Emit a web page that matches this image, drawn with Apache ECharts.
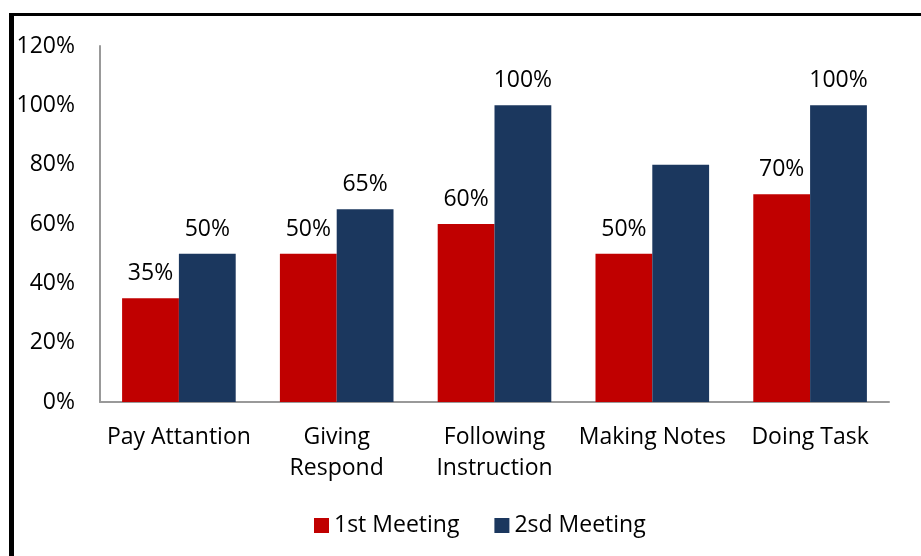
<!DOCTYPE html>
<html>
<head>
<meta charset="utf-8">
<script src="https://cdn.jsdelivr.net/npm/echarts@6/dist/echarts.min.js"></script>
<style>
  html, body { margin: 0; padding: 0; background: #fff; }
  #chart { width: 921px; height: 556px; }
</style>
</head>
<body>
<div id="chart"></div>
<script>
// Observation categories and meeting results (percent)
const categories = ['Pay Attantion', 'Giving\nRespond', 'Following\nInstruction', 'Making Notes', 'Doing Task'];
const firstMeeting = [35, 50, 60, 50, 70];
const secondMeeting = [50, 65, 100, 80, 100];
// Which bars carry a value label
const firstLabelShown = [true, true, true, true, true];
const secondLabelShown = [true, true, true, false, true];
const seriesNames = ['1st Meeting', '2sd Meeting'];

const FONT = '"Open Sans", "Liberation Sans", sans-serif';
const FONT_SIZE = 23;

function toItems(values, shown) {
  return values.map((v, i) => ({ value: v, label: { show: shown[i] } }));
}

const labelStyle = {
  position: 'top',
  distance: 13,
  color: '#000',
  fontFamily: FONT,
  fontSize: FONT_SIZE,
  formatter: p => p.value + '%'
};

const chart = echarts.init(document.getElementById('chart'));
chart.setOption({
  backgroundColor: '#fff',
  animation: false,
  graphic: [
    { type: 'line', shape: { x1: 9, y1: 14.5, x2: 921, y2: 14.5 }, style: { stroke: '#000', lineWidth: 3 } },
    { type: 'line', shape: { x1: 11.5, y1: 13, x2: 11.5, y2: 556 }, style: { stroke: '#000', lineWidth: 5 } }
  ],
  grid: { left: 100, right: 32, top: 46, bottom: 154 },
  legend: {
    top: 509,
    left: 309,
    itemWidth: 15,
    itemHeight: 15,
    itemGap: 35,
    icon: 'rect',
    textStyle: { fontFamily: FONT, fontSize: FONT_SIZE, color: '#000' },
    data: seriesNames
  },
  xAxis: {
    type: 'category',
    data: categories,
    axisLine: { lineStyle: { color: '#999', width: 2 } },
    axisTick: { show: false },
    axisLabel: {
      margin: 20,
      fontFamily: FONT,
      fontSize: FONT_SIZE,
      color: '#000',
      lineHeight: 31,
      interval: 0
    }
  },
  yAxis: {
    type: 'value',
    min: 0,
    max: 120,
    interval: 20,
    axisLine: { show: true, lineStyle: { color: '#999', width: 2 } },
    axisTick: { show: false },
    splitLine: { show: false },
    axisLabel: {
      margin: 25,
      fontFamily: FONT,
      fontSize: FONT_SIZE,
      color: '#000',
      formatter: v => v + '%'
    }
  },
  series: [
    {
      name: seriesNames[0],
      type: 'bar',
      data: toItems(firstMeeting, firstLabelShown),
      itemStyle: { color: '#C00000' },
      barGap: '0%',
      barCategoryGap: '28%',
      label: labelStyle
    },
    {
      name: seriesNames[1],
      type: 'bar',
      data: toItems(secondMeeting, secondLabelShown),
      itemStyle: { color: '#1B375E' },
      barGap: '0%',
      barCategoryGap: '28%',
      label: labelStyle
    }
  ]
});
</script>
</body>
</html>
